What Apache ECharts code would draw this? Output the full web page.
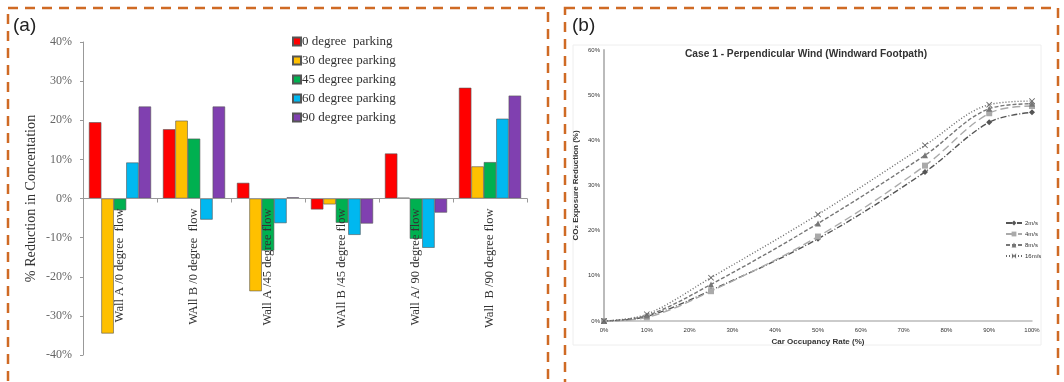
<!DOCTYPE html>
<html>
<head>
<meta charset="utf-8">
<script src="https://cdn.jsdelivr.net/npm/echarts@6/dist/echarts.min.js"></script>
<style>
  html, body { margin: 0; padding: 0; background: #fff; }
  #chart { width: 1064px; height: 382px; }
</style>
</head>
<body>
<div id="chart"></div>
<script>
// panel (a) data
const flowCases = ["Wall A /0 degree  flow", "WAll B /0 degree  flow", "Wall A /45 degree flow",
  "WAll B /45 degree flow", "Wall A/ 90 degree flow", "Wall  B /90 degree flow"];
const parkingNames = ["0 degree  parking", "30 degree parking", "45 degree parking", "60 degree parking", "90 degree parking"];
const parking0 = [19.5, 17.7, 4.0, -2.8, 11.5, 28.3];
const parking30 = [-34.5, 19.9, -23.7, -1.5, 0.2, 8.2];
const parking45 = [-3.0, 15.3, -13.3, -6.2, -10.3, 9.3];
const parking60 = [9.2, -5.4, -6.3, -9.3, -12.6, 20.4];
const parking90 = [23.5, 23.5, 0.3, -6.4, -3.6, 26.3];
const barColors = ["#ff0000", "#ffc000", "#00b050", "#00b8f0", "#8040b0"];

// panel (b) data
const occupancy = [0, 10, 25, 50, 75, 90, 100];
const windNames = ["2m/s", "4m/s", "8m/s", "16m/s"];
const wind2 = [0, 1.0, 6.8, 18.2, 33.0, 44.0, 46.2];
const wind4 = [0, 0.8, 6.6, 18.7, 34.4, 46.0, 47.6];
const wind8 = [0, 1.2, 8.1, 21.6, 36.7, 47.0, 48.1];
const wind16 = [0, 1.5, 9.6, 23.6, 38.9, 47.9, 48.7];

const chart = echarts.init(document.getElementById("chart"));
const serif = "Liberation Serif";
const sans = "Liberation Sans";
const orange = "#cf6a24";
const xMark = "path://M0,1L1,0L5,4L9,0L10,1L6,5L10,9L9,10L5,6L1,10L0,9L4,5Z";

const barData = [parking0, parking30, parking45, parking60, parking90];
const lineData = [wind2, wind4, wind8, wind16];
const lineStyles = [
  { color: "#555", type: [6, 2, 1, 2], symbol: "diamond" },
  { color: "#aaa", type: [8, 4], symbol: "rect" },
  { color: "#777", type: [4, 2], symbol: "triangle" },
  { color: "#666", type: [1, 2], symbol: xMark }
];

// grid (a) geometry; the category axis sits on the 0% line
const gridA = { left: 83, top: 42, width: 444, height: 313 };

const option = {
  backgroundColor: "#fff",
  animation: false,
  graphic: [
    { type: "rect", shape: { x: 8, y: 8, width: 540, height: 420 },
      style: { fill: null, stroke: orange, lineWidth: 2.5, lineDash: [10, 7] } },
    { type: "rect", shape: { x: 565, y: 8, width: 493, height: 420 },
      style: { fill: null, stroke: orange, lineWidth: 2.5, lineDash: [10, 7] } },
    { type: "text", left: 13, top: 16, style: { text: "(a)", font: "19px " + sans, fill: "#222" } },
    { type: "text", left: 572, top: 16, style: { text: "(b)", font: "19px " + sans, fill: "#222" } },
    { type: "rect", shape: { x: 573, y: 45, width: 468, height: 300 },
      style: { fill: null, stroke: "#eee", lineWidth: 1 } }
  ],
  grid: [
    Object.assign({ outerBoundsMode: "none" }, gridA),
    { left: 604, top: 50, width: 428, height: 271, outerBoundsMode: "none" }
  ],
  legend: [
    {
      data: parkingNames, orient: "vertical", left: 287, top: 30,
      itemWidth: 8, itemHeight: 8, itemGap: 6, icon: "rect",
      textStyle: { fontFamily: serif, fontSize: 13, color: "#333", padding: [0, 0, 0, -4] }
    },
    {
      data: windNames, orient: "vertical", left: 1000, top: 215,
      itemWidth: 16, itemHeight: 6, itemGap: 5,
      textStyle: { fontFamily: sans, fontSize: 6, color: "#333", padding: [0, 0, 0, -2] }
    }
  ],
  title: {
    text: "Case 1 - Perpendicular Wind (Windward Footpath)",
    left: 801, top: 44, textAlign: "center",
    textStyle: { fontFamily: sans, fontSize: 10.2, fontWeight: "bold", color: "#333" }
  },
  xAxis: [
    {
      gridIndex: 0, type: "category", data: flowCases, z: 5,
      offset: -gridA.height / 2,
      axisLine: { onZero: false, lineStyle: { color: "#999" } },
      axisTick: { show: true, length: 4, lineStyle: { color: "#999" } },
      axisLabel: { rotate: 90, margin: 10, fontFamily: serif, fontSize: 12.5, color: "#333" }
    },
    {
      gridIndex: 1, type: "value", min: 0, max: 100, interval: 10,
      name: "Car Occupancy Rate (%)", nameLocation: "middle", nameGap: 17,
      nameTextStyle: { fontFamily: sans, fontSize: 8, fontWeight: "bold", color: "#333" },
      splitLine: { show: false },
      axisLine: { lineStyle: { color: "#bbb", width: 1.5 } },
      axisTick: { show: false },
      axisLabel: { formatter: "{value}%", fontFamily: sans, fontSize: 6, color: "#333", margin: 6 }
    }
  ],
  yAxis: [
    {
      gridIndex: 0, type: "value", min: -40, max: 40, interval: 10,
      name: "% Reduction in Concentation", nameLocation: "middle", nameGap: 45,
      nameTextStyle: { fontFamily: serif, fontSize: 14.2, color: "#333" },
      splitLine: { show: false },
      axisLine: { show: true, lineStyle: { color: "#999" } },
      axisTick: { show: true, length: 3, lineStyle: { color: "#999" } },
      axisLabel: { formatter: "{value}%", fontFamily: serif, fontSize: 12, color: "#666", margin: 11 }
    },
    {
      gridIndex: 1, type: "value", min: 0, max: 60, interval: 10,
      name: "CO\u2082 Exposure Reduction (%)", nameLocation: "middle", nameGap: 24,
      nameTextStyle: { fontFamily: sans, fontSize: 8, fontWeight: "bold", color: "#333" },
      splitLine: { show: false },
      axisLine: { show: true, lineStyle: { color: "#bbb", width: 2 } },
      axisTick: { show: false },
      axisLabel: { formatter: "{value}%", fontFamily: sans, fontSize: 6, color: "#333", margin: 4 }
    }
  ],
  series: []
};

barData.forEach((vals, i) => {
  option.series.push({
    name: parkingNames[i], type: "bar", xAxisIndex: 0, yAxisIndex: 0,
    data: vals, barGap: "0%", barCategoryGap: "16%",
    itemStyle: { color: barColors[i], borderColor: "#555", borderWidth: 0.6 }
  });
});

lineData.forEach((vals, i) => {
  const st = lineStyles[i];
  option.series.push({
    name: windNames[i], type: "line", xAxisIndex: 1, yAxisIndex: 1,
    data: occupancy.map((x, j) => [x, vals[j]]),
    smooth: 0.35, symbol: st.symbol, symbolSize: 6, showSymbol: true,
    lineStyle: { color: st.color, type: st.type, width: 1.4 },
    itemStyle: { color: st.color }
  });
});

chart.setOption(option);
</script>
</body>
</html>
